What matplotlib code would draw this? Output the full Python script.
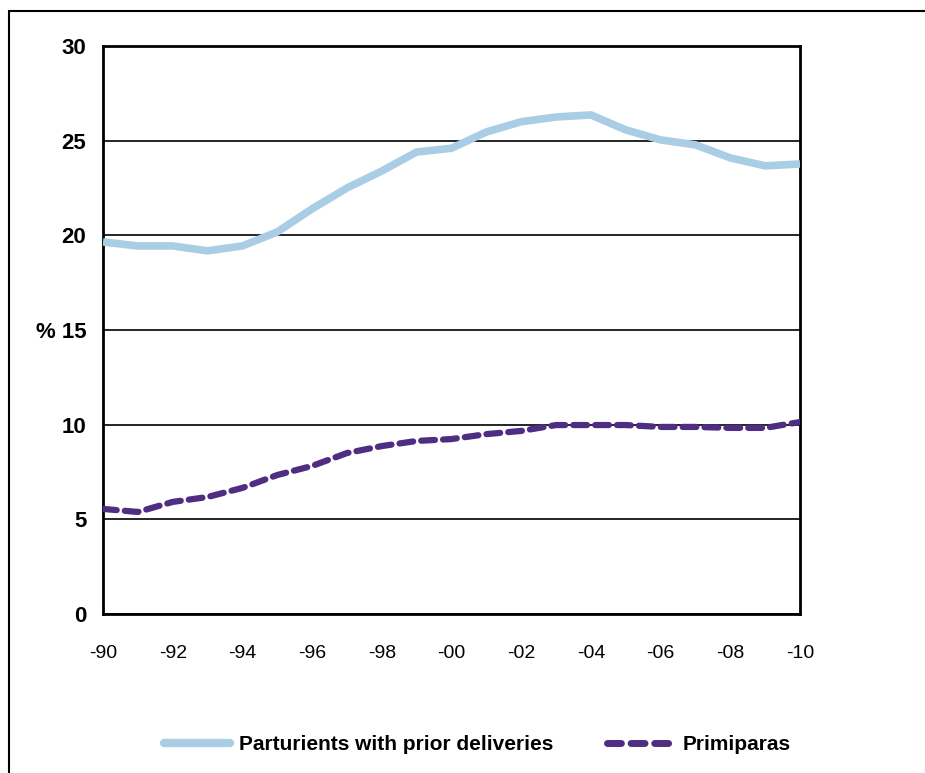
import matplotlib.pyplot as plt
from matplotlib.lines import Line2D
from matplotlib.patches import Rectangle

plt.rcParams['font.family'] = ['Liberation Sans', 'DejaVu Sans']

years = list(range(1990, 2011))
prior_deliveries = [19.65, 19.44, 19.44, 19.18, 19.44, 20.18, 21.4, 22.5, 23.4, 24.4, 24.6,
                    25.46, 26.0, 26.25, 26.36, 25.57, 25.04, 24.78, 24.09, 23.67, 23.77]
primiparas = [5.55, 5.39, 5.92, 6.18, 6.66, 7.34, 7.82, 8.5, 8.87, 9.14, 9.24,
              9.5, 9.67, 9.98, 9.98, 9.98, 9.88, 9.88, 9.83, 9.83, 10.14]
x_ticks = list(range(1990, 2011, 2))
x_labels = ['-90', '-92', '-94', '-96', '-98', '-00', '-02', '-04', '-06', '-08', '-10']
y_ticks = [0, 5, 10, 15, 20, 25, 30]
y_labels = ['0', '5', '10', '% 15', '20', '25', '30']

BLUE = '#a9cde4'
PURPLE = '#4f2d82'

fig = plt.figure(figsize=(9.25, 7.73), dpi=100)
W, H = 925, 773
ax = fig.add_axes([103 / W, 1 - 614 / H, (800 - 103) / W, (614 - 46) / H])

# outer frame around the chart area
fig.patches.append(Rectangle((9 / W, -0.1), 1.2, 1 - 11 / H + 0.1, transform=fig.transFigure,
                             fill=False, edgecolor='black', linewidth=1.5))

ax.plot(years, prior_deliveries, color=BLUE, linewidth=5.5, solid_capstyle='butt', zorder=3)
ax.plot(years, primiparas, color=PURPLE, linewidth=4.5, linestyle=(0, (2.2, 1.3)),
        dash_capstyle='round', zorder=3)

ax.set_xlim(1990, 2010)
ax.set_ylim(0, 30)
ax.set_yticks(y_ticks)
ax.set_yticklabels(y_labels, fontweight='bold', fontsize=16)
ax.set_xticks(x_ticks)
ax.set_xticklabels(x_labels, fontsize=14)
ax.tick_params(length=0, pad=22, axis='x')
ax.tick_params(length=0, pad=12, axis='y')

ax.yaxis.grid(True, color='black', linewidth=1.2)
ax.set_axisbelow(True)
for s in ax.spines.values():
    s.set_linewidth(2)
    s.set_color('black')

handles = [Line2D([], [], color=BLUE, linewidth=6, solid_capstyle='round'),
           Line2D([], [], color=PURPLE, linewidth=5, linestyle=(0, (2.0, 1.4)), dash_capstyle='round')]
fig.legend(handles, ['Parturients with prior deliveries', 'Primiparas'],
           loc='center', bbox_to_anchor=(477 / W, 1 - 745 / H), ncol=2, frameon=False,
           prop={'weight': 'bold', 'size': 15}, handlelength=3.2, columnspacing=2.6,
           handletextpad=0.4)

fig.savefig('out.png', dpi=100)
